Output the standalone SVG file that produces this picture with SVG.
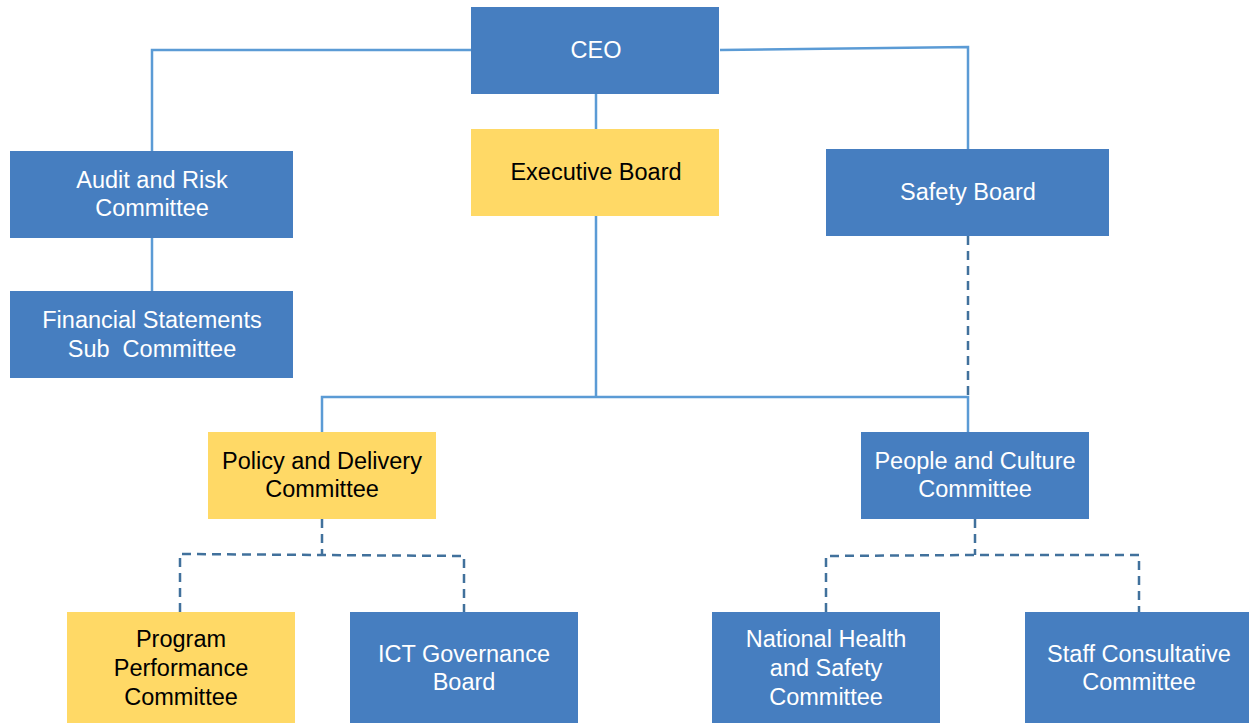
<svg xmlns="http://www.w3.org/2000/svg" width="1249" height="723" viewBox="0 0 1249 723">
<style>
.b{fill:#467EC0}
.y{fill:#FFD966}
text{font-family:"Liberation Sans",Arial,sans-serif;font-size:23.5px;text-anchor:middle}
.w{fill:#fff}
.k{fill:#000}
.s{fill:none;stroke:#5B9BD5;stroke-width:2.5}
.d{fill:none;stroke:#41719C;stroke-width:2.5;stroke-dasharray:9,6}
</style>
<rect width="1249" height="723" fill="#fff"/>
<g id="connectors">
<polyline class="s" points="471,50 152,50 152,151"/>
<polyline class="s" points="720,50 968,47 968,149"/>
<line class="s" x1="596" y1="94" x2="596" y2="129"/>
<line class="s" x1="152" y1="238" x2="152" y2="291"/>
<line class="s" x1="596" y1="216" x2="596" y2="397"/>
<polyline class="s" points="322,432 322,397 968,397 968,432"/>
<line class="d" x1="968" y1="236" x2="968" y2="397"/>
<polyline class="d" points="322,519 322,555"/>
<polyline class="d" points="180,612 180,554 322,555 464,556 464,612"/>
<polyline class="d" points="975,519 975,555"/>
<polyline class="d" points="826,612 826,556 975,555 1139,555 1139,612"/>
</g>
<g id="ceo"><rect class="b" x="471" y="7" width="248" height="87"/><text class="w" x="596" y="58">CEO</text></g>
<g id="executive-board"><rect class="y" x="471" y="129" width="248" height="87"/><text class="k" x="596" y="180">Executive Board</text></g>
<g id="audit-risk"><rect class="b" x="10" y="151" width="283" height="87"/><text class="w" x="152" y="188">Audit and Risk</text><text class="w" x="152" y="216">Committee</text></g>
<g id="financial-statements"><rect class="b" x="10" y="291" width="283" height="87"/><text class="w" x="152" y="328">Financial Statements</text><text class="w" x="152" y="357" xml:space="preserve">Sub  Committee</text></g>
<g id="safety-board"><rect class="b" x="826" y="149" width="283" height="87"/><text class="w" x="968" y="200">Safety Board</text></g>
<g id="policy-delivery"><rect class="y" x="208" y="432" width="228" height="87"/><text class="k" x="322" y="469">Policy and Delivery</text><text class="k" x="322" y="497">Committee</text></g>
<g id="people-culture"><rect class="b" x="861" y="432" width="228" height="87"/><text class="w" x="975" y="469">People and Culture</text><text class="w" x="975" y="497">Committee</text></g>
<g id="program-performance"><rect class="y" x="67" y="612" width="228" height="111"/><text class="k" x="181" y="647">Program</text><text class="k" x="181" y="676">Performance</text><text class="k" x="181" y="705">Committee</text></g>
<g id="ict-governance"><rect class="b" x="350" y="612" width="228" height="111"/><text class="w" x="464" y="662">ICT Governance</text><text class="w" x="464" y="690">Board</text></g>
<g id="national-health"><rect class="b" x="712" y="612" width="228" height="111"/><text class="w" x="826" y="647">National Health</text><text class="w" x="826" y="676">and Safety</text><text class="w" x="826" y="705">Committee</text></g>
<g id="staff-consultative"><rect class="b" x="1025" y="612" width="228" height="111"/><text class="w" x="1139" y="662">Staff Consultative</text><text class="w" x="1139" y="690">Committee</text></g>
</svg>
